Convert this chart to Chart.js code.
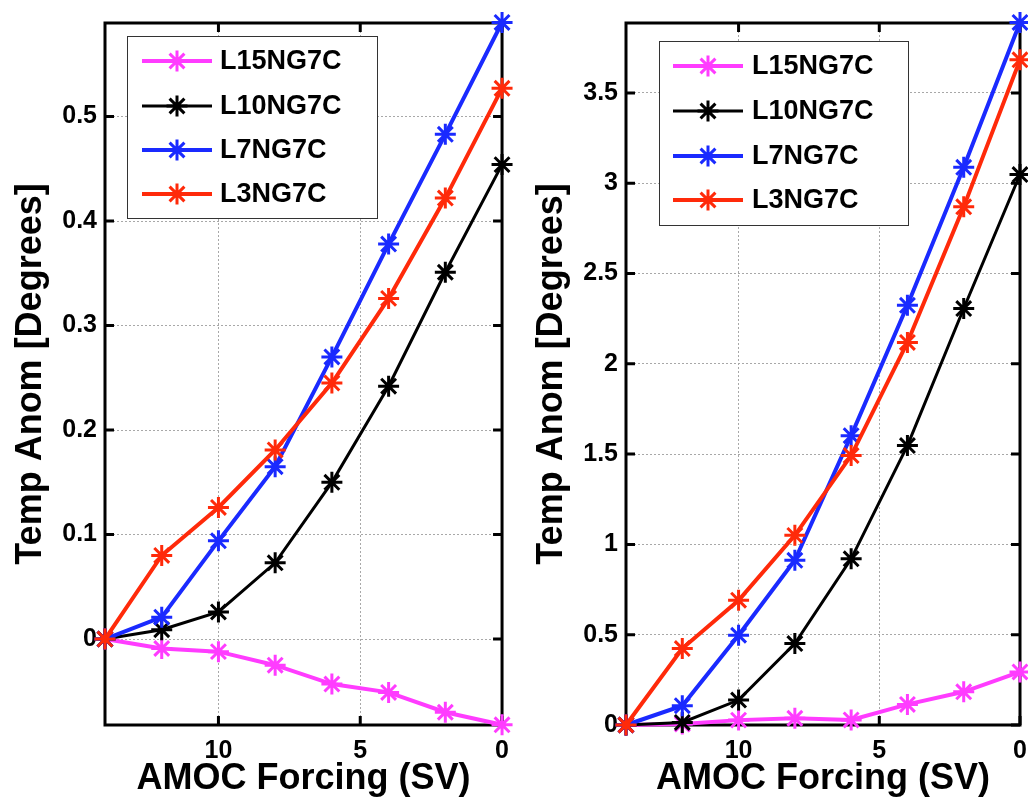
<!DOCTYPE html>
<html>
<head>
<meta charset="utf-8">
<script src="https://cdn.jsdelivr.net/npm/chart.js@4"></script>
<style>
body{margin:0;background:#fff;overflow:hidden;width:1028px;height:801px;position:relative}
.panel{position:absolute;top:0;width:520px;height:801px}
</style>
</head>
<body>
<div class="panel" style="left:0"><canvas id="leftChart" width="520" height="801"></canvas></div>
<div class="panel" style="left:521px"><canvas id="rightChart" width="520" height="801"></canvas></div>
<script>
// AMOC forcing (SV) of each run, same in both panels
var forcing = [14, 12, 10, 8, 6, 4, 2, 0];
var forcingTicks = [10, 5, 0];
var runNames = ['L15NG7C', 'L10NG7C', 'L7NG7C', 'L3NG7C'];
var runColors = ['#ff3cff', '#000000', '#1a2aff', '#ff2a0a'];

// left panel
var leftL15 = [0, -0.009, -0.012, -0.025, -0.043, -0.051, -0.070, -0.082];
var leftL10 = [0, 0.009, 0.026, 0.073, 0.150, 0.242, 0.351, 0.454];
var leftL7  = [0, 0.021, 0.094, 0.165, 0.270, 0.378, 0.483, 0.590];
var leftL3  = [0, 0.080, 0.126, 0.181, 0.245, 0.326, 0.422, 0.527];
var leftTicks = [0, 0.1, 0.2, 0.3, 0.4, 0.5];

// right panel
var rightL15 = [0, 0.005, 0.027, 0.037, 0.028, 0.114, 0.184, 0.294];
var rightL10 = [0, 0.014, 0.138, 0.451, 0.920, 1.547, 2.306, 3.048];
var rightL7  = [0, 0.107, 0.497, 0.912, 1.602, 2.324, 3.088, 3.890];
var rightL3  = [0, 0.423, 0.691, 1.050, 1.492, 2.118, 2.869, 3.683];
var rightTicks = [0, 0.5, 1, 1.5, 2, 2.5, 3, 3.5];

var FONT = "'Liberation Sans', Arial, Helvetica, sans-serif";

function starAt(ctx, x, y, r) {
  ctx.beginPath();
  for (var k = 0; k < 4; k++) {
    var a = k * Math.PI / 4;
    ctx.moveTo(x - r * Math.cos(a), y - r * Math.sin(a));
    ctx.lineTo(x + r * Math.cos(a), y + r * Math.sin(a));
  }
  ctx.stroke();
}

// black box round the plot with inward tick marks (matlab style)
var framePlugin = {
  id: 'frame',
  beforeDatasetsDraw: function(chart) {
    var a = chart.chartArea, ctx = chart.ctx;
    var xs = chart.scales.x, ys = chart.scales.y;
    ctx.save();
    ctx.strokeStyle = '#000';
    ctx.lineWidth = 3;
    ctx.beginPath();
    xs.ticks.forEach(function(t) {
      var px = xs.getPixelForValue(t.value);
      ctx.moveTo(px, a.bottom); ctx.lineTo(px, a.bottom - 9);
      ctx.moveTo(px, a.top); ctx.lineTo(px, a.top + 9);
    });
    ys.ticks.forEach(function(t) {
      var py = ys.getPixelForValue(t.value);
      ctx.moveTo(a.left, py); ctx.lineTo(a.left + 9, py);
      ctx.moveTo(a.right, py); ctx.lineTo(a.right - 9, py);
    });
    ctx.stroke();
    ctx.strokeRect(a.left, a.top, a.right - a.left, a.bottom - a.top);
    ctx.restore();
  }
};

// boxed legend inside the plot, top left
var boxLegend = {
  id: 'boxLegend',
  afterDraw: function(chart, args, opts) {
    var a = chart.chartArea, ctx = chart.ctx;
    var bx = a.left + opts.dx, by = a.top + opts.dy;
    ctx.save();
    ctx.fillStyle = '#fff';
    ctx.fillRect(bx, by, opts.w, opts.h);
    ctx.strokeStyle = '#333';
    ctx.lineWidth = 1;
    ctx.strokeRect(bx + 0.5, by + 0.5, opts.w, opts.h);
    ctx.font = 'bold 27px ' + FONT;
    ctx.textBaseline = 'middle';
    chart.data.datasets.forEach(function(ds, i) {
      var ry = by + opts.rows[i];
      ctx.strokeStyle = ds.borderColor;
      ctx.lineWidth = ds.borderWidth;
      ctx.beginPath();
      ctx.moveTo(bx + opts.lineFrom, ry);
      ctx.lineTo(bx + opts.lineTo, ry);
      ctx.stroke();
      ctx.lineWidth = 3;
      starAt(ctx, bx + (opts.lineFrom + opts.lineTo) / 2, ry, 10.5);
      ctx.fillStyle = '#000';
      ctx.fillText(ds.label, bx + opts.textX, ry + 1);
    });
    ctx.restore();
  }
};

function makeChart(id, series, yMin, yMax, yTicks, padRight, legend) {
  var datasets = series.map(function(vals, i) {
    return {
      label: runNames[i],
      data: vals.map(function(v, j) { return {x: forcing[j], y: v}; }),
      borderColor: runColors[i],
      backgroundColor: runColors[i],
      borderWidth: i === 1 ? 3 : 4,
      pointStyle: 'star',
      pointRadius: 10.5,
      pointBorderWidth: 3,
      pointBorderColor: runColors[i],
      tension: 0,
      clip: false,
      order: series.length - i
    };
  });
  return new Chart(document.getElementById(id), {
    type: 'line',
    data: {datasets: datasets},
    plugins: [framePlugin, boxLegend],
    options: {
      responsive: false,
      animation: false,
      layout: {autoPadding: false, padding: {top: 20, right: padRight, left: 0, bottom: 0}},
      plugins: {
        legend: {display: false},
        tooltip: {enabled: false},
        boxLegend: legend
      },
      scales: {
        x: {
          type: 'linear',
          reverse: true,
          min: 0,
          max: 14,
          afterBuildTicks: function(s) { s.ticks = forcingTicks.map(function(v) { return {value: v}; }); },
          afterFit: function(s) { s.height = 76; },
          grid: {color: '#a8a8a8', lineWidth: 1, drawTicks: false},
          border: {display: false, dash: [2, 2]},
          ticks: {color: '#000', padding: 11, maxRotation: 0, font: {family: FONT, size: 25, weight: 'bold'},
            callback: function(v) { return String(v); }},
          title: {display: true, text: 'AMOC Forcing (SV)', color: '#000', padding: {top: 0, bottom: 4},
            font: {family: FONT, size: 36, weight: 'bold', lineHeight: 1}}
        },
        y: {
          type: 'linear',
          min: yMin,
          max: yMax,
          afterBuildTicks: function(s) { s.ticks = yTicks.map(function(v) { return {value: v}; }); },
          afterFit: function(s) { s.width = 105; },
          grid: {color: '#a8a8a8', lineWidth: 1, drawTicks: false},
          border: {display: false, dash: [2, 2]},
          ticks: {color: '#000', padding: 8, font: {family: FONT, size: 25, weight: 'bold'},
            callback: function(v) { return String(v); }},
          title: {display: true, text: 'Temp Anom [Degrees]', color: '#000', padding: {top: 13, bottom: 0},
            font: {family: FONT, size: 36, weight: 'bold', lineHeight: 1}}
        }
      }
    }
  });
}

makeChart('leftChart', [leftL15, leftL10, leftL7, leftL3], -0.0822, 0.5895, leftTicks, 15,
  {dx: 22, dy: 13, w: 250, h: 182, rows: [25, 70, 114, 158], lineFrom: 15, lineTo: 85, textX: 93});
makeChart('rightChart', [rightL15, rightL10, rightL7, rightL3], 0, 3.887, rightTicks, 21,
  {dx: 33, dy: 18, w: 249, h: 184, rows: [25, 70, 115, 159], lineFrom: 14, lineTo: 84, textX: 93});
</script>
</body>
</html>
